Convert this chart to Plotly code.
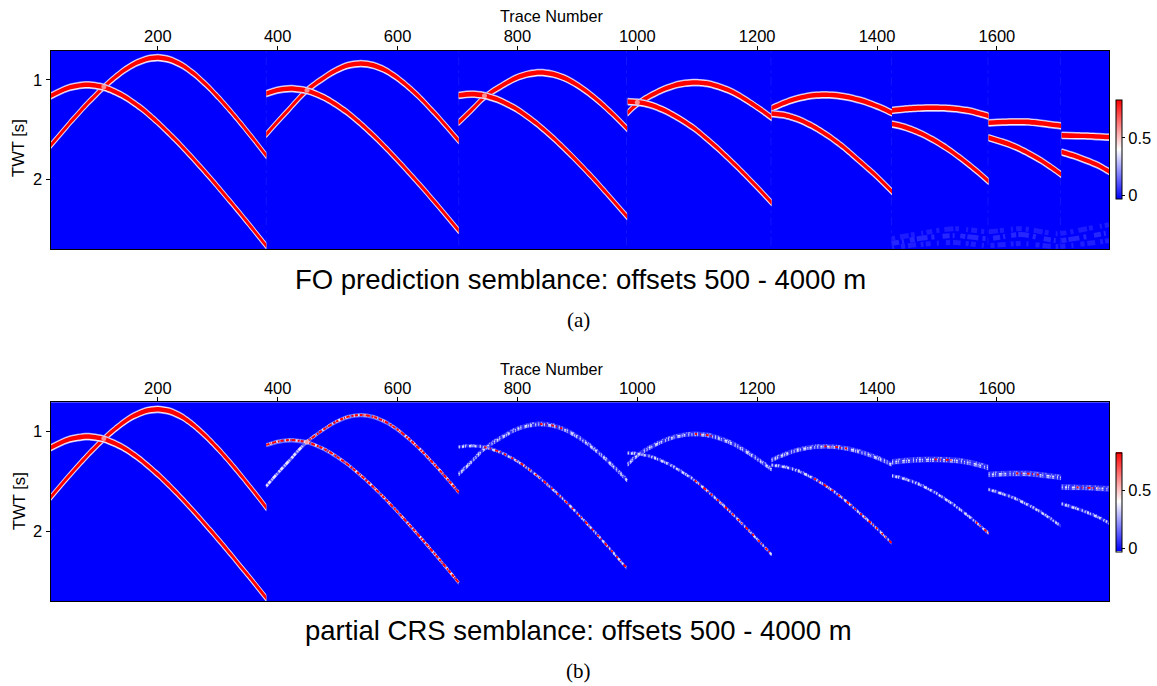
import plotly.graph_objects as go

W, H = 1157, 686

# ---- curve picks: trace number / TWT [s] ----
s1_up_T = [21, 50, 80, 110, 140, 160, 180, 200, 220, 240, 260, 280, 300, 320, 340, 360, 381]
s1_up_t = [1.66, 1.454, 1.252, 1.069, .916, .839, .789, .772, .792, .847, .933, 1.042, 1.166, 1.302, 1.446, 1.597, 1.76]
s1_lo_T = [21, 50, 82, 110, 140, 170, 200, 230, 260, 290, 320, 350, 381]
s1_lo_t = [1.16, 1.079, 1.047, 1.072, 1.15, 1.272, 1.427, 1.604, 1.798, 2.003, 2.217, 2.437, 2.67]
s2_up_T = [381, 400, 419, 449, 479, 499, 519, 539, 560, 580, 600, 620, 640, 660, 680, 702]
s2_up_t = [1.547, 1.417, 1.293, 1.10, .968, .895, .848, .832, .851, .901, .979, 1.078, 1.192, 1.319, 1.454, 1.61]
s2_lo_T = [381, 400, 422, 449, 480, 512, 544, 576, 608, 640, 670, 702]
s2_lo_t = [1.134, 1.099, 1.084, 1.106, 1.182, 1.307, 1.468, 1.654, 1.858, 2.074, 2.285, 2.517]
s3_up_T = [702, 724, 745, 775, 798, 818, 838, 858, 878, 898, 918, 938, 960, 983]
s3_up_t = [1.426, 1.297, 1.17, 1.051, .977, .937, .923, .937, .977, 1.042, 1.125, 1.224, 1.347, 1.487]
s3_lo_T = [702, 723, 745, 770, 800, 830, 860, 890, 920, 950, 983]
s3_lo_t = [1.153, 1.141, 1.155, 1.202, 1.297, 1.428, 1.584, 1.759, 1.948, 2.148, 2.376]
s4_up_T = [984, 1000, 1020, 1040, 1060, 1080, 1096, 1115, 1125, 1150, 1170, 1190, 1207, 1224]
s4_up_t = [1.329, 1.238, 1.162, 1.101, 1.056, 1.03, 1.023, 1.032, 1.044, 1.095, 1.155, 1.232, 1.302, 1.376]
s4_lo_T = [984, 1000, 1020, 1045, 1070, 1096, 1120, 1140, 1165, 1188, 1205, 1224]
s4_lo_t = [1.215, 1.221, 1.245, 1.303, 1.386, 1.49, 1.612, 1.719, 1.864, 2.005, 2.111, 2.235]
s5_up_T = [1224, 1240, 1258, 1275, 1295, 1312, 1330, 1350, 1370, 1390, 1408, 1425]
s5_up_t = [1.285, 1.241, 1.201, 1.173, 1.153, 1.148, 1.153, 1.17, 1.199, 1.238, 1.282, 1.33]
s5_lo_T = [1224, 1247, 1271, 1295, 1318, 1342, 1365, 1395, 1425]
s5_lo_t = [1.336, 1.354, 1.40, 1.472, 1.558, 1.665, 1.785, 1.945, 2.124]
s6_up_T = [1425, 1445, 1470, 1496, 1520, 1530, 1550, 1570, 1586]
s6_up_t = [1.305, 1.292, 1.282, 1.279, 1.284, 1.288, 1.305, 1.334, 1.362]
s6_lo_T = [1425, 1445, 1472, 1495, 1519, 1540, 1565, 1586]
s6_lo_t = [1.443, 1.471, 1.533, 1.605, 1.696, 1.788, 1.909, 2.02]
s7_up_T = [1586, 1610, 1632, 1650, 1674, 1690, 1707]
s7_up_t = [1.43, 1.423, 1.42, 1.421, 1.435, 1.447, 1.46]
s7_lo_T = [1586, 1610, 1632, 1655, 1674, 1690, 1707]
s7_lo_t = [1.58, 1.625, 1.675, 1.745, 1.81, 1.875, 1.95]
s8_up_T = [1708, 1733, 1769, 1787]
s8_up_t = [1.557, 1.56, 1.568, 1.574]
s8_lo_T = [1708, 1730, 1750, 1770, 1787]
s8_lo_t = [1.725, 1.765, 1.81, 1.86, 1.92]

curves = [
    (s1_up_T, s1_up_t), (s1_lo_T, s1_lo_t), (s2_up_T, s2_up_t), (s2_lo_T, s2_lo_t),
    (s3_up_T, s3_up_t), (s3_lo_T, s3_lo_t), (s4_up_T, s4_up_t), (s4_lo_T, s4_lo_t),
    (s5_up_T, s5_up_t), (s5_lo_T, s5_lo_t), (s6_up_T, s6_up_t), (s6_lo_T, s6_lo_t),
    (s7_up_T, s7_up_t), (s7_lo_T, s7_lo_t), (s8_up_T, s8_up_t), (s8_lo_T, s8_lo_t),
]

crossing_T = [110, 449, 745, 1000]
crossing_t = [1.068, 1.103, 1.16, 1.225]

# speckled stretches in panel (b): trace-number span where red survives, per curve
b_red_spans = [None, None, (449, 702), (381, 702), (838, 878), (745, 983), (1096, 1125), (1096, 1224),
               (1312, 1350), (1295, 1425), (1496, 1530), (1565, 1586), (1632, 1674), None, (1733, 1769), None]

# weak noise, panel (a) lower right
noise_T = [1425, 1470, 1530, 1585, 1640, 1700, 1750, 1787]
noise_1 = [2.60, 2.55, 2.50, 2.53, 2.50, 2.55, 2.50, 2.46]
noise_2 = [2.65, 2.60, 2.57, 2.60, 2.56, 2.62, 2.58, 2.54]
noise_3 = [2.69, 2.66, 2.64, 2.67, 2.65, 2.68, 2.65, 2.62]
boundaries_T = [381, 702, 982, 1223, 1424, 1585, 1706]

x_ticks = [200, 400, 600, 800, 1000, 1200, 1400, 1600]
y_ticks = [1, 2]
cbar_ticks = [0, 0.5]
title_a = "FO prediction semblance: offsets 500 - 4000 m"
title_b = "partial CRS semblance: offsets 500 - 4000 m"

BLUE = "rgb(0,0,255)"
D1 = "2px,1px,3px,2px,1px,1px,4px,1px,1px,3px"
D2 = "1px,2px,2px,1px,1px,3px,3px,1px,1px,1px,2px,3px,1px,2px"
D3 = "1px,3px,1px,1px,2px,4px,1px,2px,1px,5px"
DR = "2px,3px,1px,5px,3px,2px,1px,4px,2px,6px"
DR2 = "3px,1px,1px,1px,4px,2px,2px,1px,3px,2px"
N1 = "3px,5px,9px,2px,4px,7px,2px,3px,6px,4px"
N2 = "7px,3px,2px,6px,5px,2px,11px,4px,3px,8px"
N3 = "2px,7px,4px,3px,8px,5px,3px,2px,5px,6px"

fig = go.Figure()
SPL = dict(shape="spline", smoothing=0.8)


def band(T, t, up, lo, color, ax):
    fig.add_trace(go.Scatter(x=T, y=[v - up for v in t], mode="lines", xaxis=f"x{ax}", yaxis=f"y{ax}",
                             line=dict(width=0, **SPL), hoverinfo="skip", showlegend=False))
    fig.add_trace(go.Scatter(x=T, y=[v + lo for v in t], mode="lines", xaxis=f"x{ax}", yaxis=f"y{ax}",
                             line=dict(width=0, **SPL), fill="tonexty", fillcolor=color,
                             hoverinfo="skip", showlegend=False))


def solid(T, t, ax):
    band(T, t, 0.036, 0.042, "rgb(170,170,255)", ax)
    band(T, t, 0.029, 0.036, "rgb(248,230,240)", ax)
    band(T, t, 0.021, 0.025, "rgb(255,0,0)", ax)


def speck(T, t, ax, color, width, dash):
    fig.add_trace(go.Scatter(x=T, y=t, mode="lines", xaxis=f"x{ax}", yaxis=f"y{ax}",
                             line=dict(width=width, color=color, dash=dash, **SPL),
                             hoverinfo="skip", showlegend=False))


# panel (a)
for b in boundaries_T:
    speck([b, b], [0.7, 2.7], 1, "rgb(20,20,255)", 1, "3px,4px,8px,5px")
for ns, c, d in ((noise_1, "rgb(28,28,255)", N1), (noise_2, "rgb(38,38,255)", N2), (noise_3, "rgb(30,30,255)", N3)):
    speck(noise_T, ns, 1, c, 5, d)
for T, t in curves:
    solid(T, t, 1)
fig.add_trace(go.Scatter(x=crossing_T, y=crossing_t, mode="markers", xaxis="x1", yaxis="y1",
                         marker=dict(size=5, color="rgba(255,190,190,0.75)"), hoverinfo="skip", showlegend=False))

# panel (b)
for i, (T, t) in enumerate(curves):
    if i < 2:
        solid(T, t, 2)
        continue
    seg = i // 2
    upper = i % 2 == 0
    hw = 0.025 if upper else 0.017
    if upper and seg > 4:
        hw = 0.03
    if seg == 1:
        band(T, t, 0.02, 0.024, "rgb(105,105,255)", 2)
        speck(T, t, 2, "rgb(235,225,255)", 2.6, D1)
    else:
        band(T, t, hw, hw, "rgb(48,48,255)", 2)
        speck(T, [v - hw * 0.6 for v in t], 2, "rgb(150,150,255)", 1.4, D3)
        speck(T, [v + hw * 0.6 for v in t], 2, "rgb(175,175,255)", 1.4, D2)
        speck(T, t, 2, "rgb(225,225,255)", 1.7, D2)
    span = b_red_spans[i]
    if span:
        sel = [(a, v) for a, v in zip(T, t) if span[0] <= a <= span[1]]
        speck([a for a, _ in sel], [v for _, v in sel], 2, "rgb(255,0,0)",
              1.8 if seg > 1 else 2.0, DR if seg > 1 else DR2)
fig.add_trace(go.Scatter(x=crossing_T[:2], y=crossing_t[:2], mode="markers", xaxis="x2", yaxis="y2",
                         marker=dict(size=5, color="rgba(255,190,190,0.75)"), hoverinfo="skip", showlegend=False))

# colour bars carried by invisible points
for ax, ca in ((1, "coloraxis"), (2, "coloraxis2")):
    fig.add_trace(go.Scatter(x=[1000], y=[1.5], mode="markers", xaxis=f"x{ax}", yaxis=f"y{ax}", showlegend=False,
                             hoverinfo="skip", opacity=0, marker=dict(color=[0], coloraxis=ca, size=1)))

FONT = "Liberation Sans"
TICKF = dict(family=FONT, size=16.5, color="black")
X0, X1 = 50.5 / W, 1109 / W


def xax(anchor):
    return dict(domain=[X0, X1], range=[21, 1787], side="top", anchor=anchor, tickmode="array", tickvals=x_ticks,
                ticks="outside", ticklen=4, tickcolor="black", showgrid=False, zeroline=False, showline=True,
                mirror=True, linecolor="black", linewidth=1, tickfont=TICKF, automargin=False, ticklabelstandoff=-3)


def yax(anchor, dom):
    return dict(domain=dom, range=[2.705, 0.705], anchor=anchor, tickmode="array", tickvals=y_ticks,
                ticks="outside", ticklen=4, tickcolor="black", showgrid=False, zeroline=False, showline=True,
                mirror=True, linecolor="black", linewidth=1, tickfont=TICKF, automargin=False)


def cax(top):
    return dict(cmin=-0.03, cmax=0.83,
                colorscale=[[0, "rgb(0,0,255)"], [0.5, "rgb(255,255,255)"], [1, "rgb(255,0,0)"]],
                colorbar=dict(x=1115.8 / W, xanchor="left", y=1 - top / H, yanchor="top", lenmode="pixels", len=99.3,
                              thicknessmode="pixels", thickness=6.4, xpad=0, ypad=0, outlinewidth=1,
                              outlinecolor="black", ticks="outside", ticklen=3, tickcolor="black",
                              tickmode="array", tickvals=cbar_ticks, ticktext=["0", "0.5"], tickfont=TICKF))


def txt(x, y, s, size, family=FONT, angle=0):
    return dict(x=x / W, y=1 - y / H, xref="paper", yref="paper", text=s, showarrow=False, textangle=angle,
                xanchor="center", yanchor="middle", font=dict(family=family, size=size, color="black"))


fig.update_layout(
    width=W, height=H, margin=dict(l=0, r=0, t=0, b=0), paper_bgcolor="white", plot_bgcolor=BLUE,
    showlegend=False,
    xaxis=xax("y"), yaxis=yax("x", [1 - 249 / H, 1 - 50.7 / H]),
    xaxis2=xax("y2"), yaxis2=yax("x2", [1 - 601.3 / H, 1 - 402.3 / H]),
    coloraxis=cax(100), coloraxis2=cax(452.5),
    annotations=[
        txt(551, 16, "Trace Number", 16.2), txt(19, 148, "TWT [s]", 16.6, angle=-90),
        txt(580, 279, title_a, 27.5), txt(579, 320, "(a)", 21, "Liberation Serif"),
        txt(551, 369, "Trace Number", 16.2), txt(19, 501, "TWT [s]", 16.6, angle=-90),
        txt(579, 630, title_b, 27.5), txt(579, 671, "(b)", 21, "Liberation Serif"),
    ],
)

fig.write_html("out.html", config={"displayModeBar": False},
               post_script="document.body.style.margin='0';document.body.style.overflow='hidden';")
